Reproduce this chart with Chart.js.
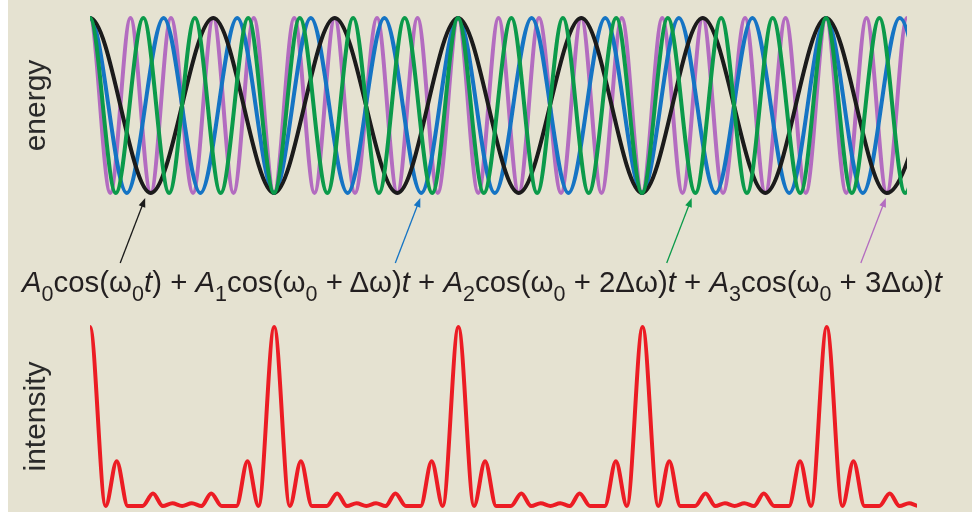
<!DOCTYPE html>
<html>
<head>
<meta charset="utf-8">
<script src="https://cdn.jsdelivr.net/npm/chart.js@4.4.1/dist/chart.umd.min.js"></script>
<style>
  html, body { margin: 0; padding: 0; background: #fff; }
  #wrap { position: relative; width: 979px; height: 516px; overflow: hidden; }
  #panel { position: absolute; left: 8px; top: 0; width: 964px; height: 512px; background: #e5e2d1; }
  canvas { position: absolute; left: 0; top: 0; }
  #formula {
    position: absolute; left: 22px; top: 267px;
    font: 29.4px 'Liberation Sans', Arial, sans-serif; line-height: 30px;
    color: #231f20; white-space: nowrap;
  }
  #formula sub { font-size: 21.5px; vertical-align: baseline; position: relative; top: 9px; line-height: 0; }
</style>
</head>
<body>
<div id="wrap">
  <div id="panel"></div>
  <canvas id="waves" width="979" height="516"></canvas>
  <canvas id="intensity" width="979" height="516"></canvas>
  <div id="formula"><i>A</i><sub>0</sub>cos(ω<sub>0</sub><i>t</i>) + <i>A</i><sub>1</sub>cos(ω<sub>0</sub> + Δω)<i>t</i> + <i>A</i><sub>2</sub>cos(ω<sub>0</sub> + 2Δω)<i>t</i> + <i>A</i><sub>3</sub>cos(ω<sub>0</sub> + 3Δω)<i>t</i></div>
</div>
<script>
// time in beat periods; each wave given by its crests (1) and troughs (-1)
const blackT = [-0.33, 0, 0.33, 0.67, 1.00, 1.33, 1.67, 2.00, 2.33, 2.67, 3.00, 3.33, 3.67, 4.00, 4.33, 4.67];
const blackY = [-1, 1, -1, 1, -1, 1, -1, 1, -1, 1, -1, 1, -1, 1, -1, 1];

const blueT = [-0.2, 0, 0.2, 0.4, 0.6, 0.8, 1.0, 1.2, 1.4, 1.6, 1.8, 2.0, 2.2, 2.4, 2.6, 2.8, 3.0, 3.2, 3.4, 3.6, 3.8, 4.0, 4.2, 4.4, 4.6];
const blueY = [-1, 1, -1, 1, -1, 1, -1, 1, -1, 1, -1, 1, -1, 1, -1, 1, -1, 1, -1, 1, -1, 1, -1, 1, -1];

const greenT = [-0.14, 0, 0.14, 0.29, 0.43, 0.57, 0.71, 0.86, 1.00, 1.14, 1.29, 1.43, 1.57, 1.71, 1.86, 2.00, 2.14,
    2.29, 2.43, 2.57, 2.71, 2.86, 3.00, 3.14, 3.29, 3.43, 3.57, 3.71, 3.86, 4.00, 4.14, 4.29, 4.43, 4.57];
const greenY = [-1, 1, -1, 1, -1, 1, -1, 1, -1, 1, -1, 1, -1, 1, -1, 1, -1,
    1, -1, 1, -1, 1, -1, 1, -1, 1, -1, 1, -1, 1, -1, 1, -1, 1];

const purpleT = [-0.11, 0, 0.11, 0.22, 0.33, 0.44, 0.56, 0.67, 0.78, 0.89, 1.00, 1.11, 1.22, 1.33, 1.44, 1.56, 1.67, 1.78, 1.89,
    2.00, 2.11, 2.22, 2.33, 2.44, 2.56, 2.67, 2.78, 2.89, 3.00, 3.11, 3.22, 3.33, 3.44, 3.56, 3.67, 3.78, 3.89,
    4.00, 4.11, 4.22, 4.33, 4.44, 4.56];
const purpleY = [-1, 1, -1, 1, -1, 1, -1, 1, -1, 1, -1, 1, -1, 1, -1, 1, -1, 1, -1,
    1, -1, 1, -1, 1, -1, 1, -1, 1, -1, 1, -1, 1, -1, 1, -1, 1, -1,
    1, -1, 1, -1, 1, -1];

// intensity trace
const redT = [-0.145, -0.085,
    0, 0.085, 0.145, 0.205, 0.285, 0.342, 0.395, 0.447, 0.5, 0.553, 0.605, 0.658, 0.715, 0.795, 0.855, 0.915,
    1, 1.085, 1.145, 1.205, 1.285, 1.342, 1.395, 1.447, 1.5, 1.553, 1.605, 1.658, 1.715, 1.795, 1.855, 1.915,
    2, 2.085, 2.145, 2.205, 2.285, 2.342, 2.395, 2.447, 2.5, 2.553, 2.605, 2.658, 2.715, 2.795, 2.855, 2.915,
    3, 3.085, 3.145, 3.205, 3.285, 3.342, 3.395, 3.447, 3.5, 3.553, 3.605, 3.658, 3.715, 3.795, 3.855, 3.915,
    4, 4.085, 4.145, 4.205, 4.285, 4.342, 4.395, 4.447, 4.5, 4.553];
const redI = [0.25, 0,
    1, 0, 0.25, 0, 0, 0.07, 0, 0.015, 0, 0.015, 0, 0.07, 0, 0, 0.25, 0,
    1, 0, 0.25, 0, 0, 0.07, 0, 0.015, 0, 0.015, 0, 0.07, 0, 0, 0.25, 0,
    1, 0, 0.25, 0, 0, 0.07, 0, 0.015, 0, 0.015, 0, 0.07, 0, 0, 0.25, 0,
    1, 0, 0.25, 0, 0, 0.07, 0, 0.015, 0, 0.015, 0, 0.07, 0, 0, 0.25, 0,
    1, 0, 0.25, 0, 0, 0.07, 0, 0.015, 0, 0.015];

// troughs the labels point at
const arrowT = [0.30, 1.795, 3.27, 4.325];
const arrowColors = ['#1b1b1b', '#1574c4', '#0b9a4a', '#b36cc0'];

const FONT = "'Liberation Sans', Arial, sans-serif";

function toPoints(ts, ys) {
    return ts.map((t, i) => ({ x: t, y: ys[i] }));
}

function wave(label, ts, ys, color) {
    return {
        label: label,
        data: toPoints(ts, ys),
        borderColor: color,
        borderWidth: 4,
        pointRadius: 0,
        fill: false,
        cubicInterpolationMode: 'monotone',
        borderCapStyle: 'round',
        borderJoinStyle: 'round'
    };
}

function yAxis(min, max, text) {
    return {
        min: min,
        max: max,
        ticks: { display: false },
        grid: { display: false, drawTicks: false },
        border: { display: false },
        title: {
            display: true,
            text: text,
            color: '#2a2a2a',
            font: { family: FONT, size: 30, weight: 'normal' },
            padding: { top: 0, bottom: 35 }
        }
    };
}

const arrowPlugin = {
    id: 'arrows',
    afterDatasetsDraw(chart) {
        const { ctx, scales: { x, y } } = chart;
        ctx.save();
        arrowT.forEach((t, i) => {
            const tipX = x.getPixelForValue(t);
            const tipY = y.getPixelForValue(-1) + 5;
            const tailX = tipX - 25;
            const tailY = tipY + 65;
            const ang = Math.atan2(tipY - tailY, tipX - tailX);
            ctx.strokeStyle = arrowColors[i];
            ctx.fillStyle = arrowColors[i];
            ctx.lineWidth = 1.3;
            ctx.beginPath();
            ctx.moveTo(tailX, tailY);
            ctx.lineTo(tipX - 7 * Math.cos(ang), tipY - 7 * Math.sin(ang));
            ctx.stroke();
            ctx.beginPath();
            ctx.moveTo(tipX, tipY);
            ctx.lineTo(tipX - 9 * Math.cos(ang) + 3.5 * Math.sin(ang), tipY - 9 * Math.sin(ang) - 3.5 * Math.cos(ang));
            ctx.lineTo(tipX - 9 * Math.cos(ang) - 3.5 * Math.sin(ang), tipY - 9 * Math.sin(ang) + 3.5 * Math.cos(ang));
            ctx.closePath();
            ctx.fill();
        });
        ctx.restore();
    }
};

new Chart(document.getElementById('waves'), {
    type: 'line',
    data: {
        datasets: [
            wave('A2', greenT, greenY, '#0b9a4a'),
            wave('A0', blackT, blackY, '#1b1b1b'),
            wave('A1', blueT, blueY, '#1574c4'),
            wave('A3', purpleT, purpleY, '#b36cc0')
        ]
    },
    options: {
        responsive: false,
        animation: false,
        layout: { padding: { left: 19, right: 72, top: 9.25, bottom: 314.25 } },
        plugins: { legend: { display: false }, tooltip: { enabled: false } },
        scales: {
            x: { type: 'linear', min: 0, max: 4.44, display: false },
            y: yAxis(-1.1, 1.1, 'energy')
        }
    },
    plugins: [arrowPlugin]
});

new Chart(document.getElementById('intensity'), {
    type: 'line',
    data: {
        datasets: [{
            label: 'intensity',
            data: toPoints(redT, redI),
            borderColor: '#ec1c24',
            borderWidth: 4,
            pointRadius: 0,
            fill: false,
            cubicInterpolationMode: 'monotone',
            borderCapStyle: 'round',
            borderJoinStyle: 'round'
        }]
    },
    options: {
        responsive: false,
        animation: false,
        layout: { padding: { left: 19, right: 62, top: 318.05, bottom: 1.05 } },
        plugins: { legend: { display: false }, tooltip: { enabled: false } },
        scales: {
            x: { type: 'linear', min: 0, max: 4.49, display: false },
            y: yAxis(-0.05, 1.05, 'intensity')
        }
    }
});
</script>
</body>
</html>
